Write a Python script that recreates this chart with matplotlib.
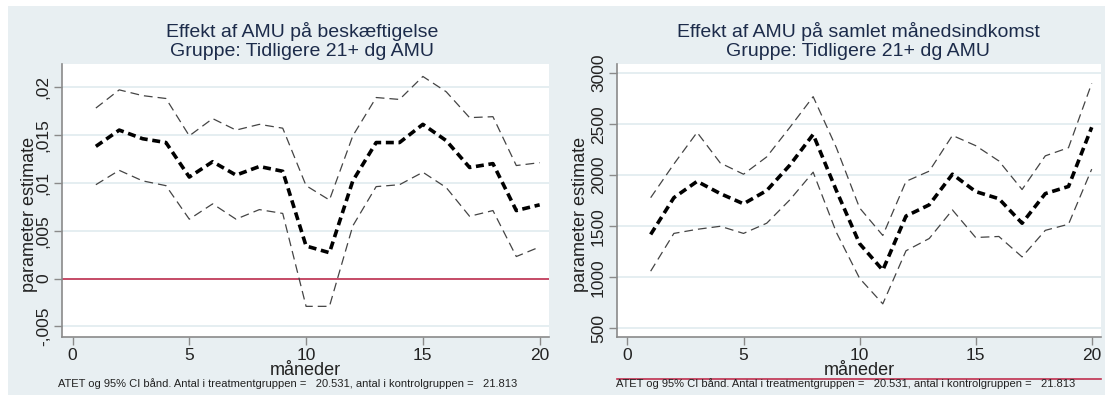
import numpy as np
import matplotlib.pyplot as plt
from matplotlib.patches import Rectangle

plt.rcParams['font.family'] = ['Liberation Sans', 'DejaVu Sans']

# months after start
months = list(range(1, 21))

# employment effect (share) with 95% CI
emp_est = [0.0138, 0.0155, 0.0146, 0.0142, 0.0106, 0.0122, 0.0108, 0.0117, 0.0112, 0.0034,
           0.0027, 0.0102, 0.0142, 0.0142, 0.0161, 0.0144, 0.0116, 0.0120, 0.0071, 0.0077]
emp_hi = [0.0178, 0.0197, 0.0191, 0.0188, 0.0149, 0.0167, 0.0155, 0.0161, 0.0157, 0.0097,
          0.0082, 0.0149, 0.0189, 0.0187, 0.0211, 0.0195, 0.0168, 0.0169, 0.0118, 0.0121]
emp_lo = [0.0098, 0.0113, 0.0102, 0.0097, 0.0062, 0.0078, 0.0062, 0.0072, 0.0068, -0.0029,
          -0.0029, 0.0055, 0.0096, 0.0098, 0.0111, 0.0095, 0.0065, 0.0071, 0.0023, 0.0033]

# monthly income effect (kr) with 95% CI
inc_est = [1420, 1780, 1940, 1820, 1720, 1850, 2100, 2400, 1850, 1330,
           1070, 1600, 1710, 2010, 1840, 1770, 1530, 1820, 1890, 2470]
inc_hi = [1780, 2110, 2420, 2120, 2010, 2180, 2470, 2770, 2270, 1680,
          1410, 1940, 2040, 2390, 2290, 2140, 1860, 2190, 2270, 2900]
inc_lo = [1060, 1430, 1470, 1500, 1430, 1530, 1760, 2030, 1440, 990,
          740, 1260, 1380, 1660, 1390, 1400, 1200, 1460, 1520, 2060]

emp_ticks = [-0.005, 0, 0.005, 0.01, 0.015, 0.02]
emp_labels = ['-,005', '0', ',005', ',01', ',015', ',02']
inc_ticks = [500, 1000, 1500, 2000, 2500, 3000]

note = "ATET og 95% CI bånd. Antal i treatmentgruppen =   20.531, antal i kontrolgruppen =   21.813"
titles = ["Effekt af AMU på beskæftigelse\nGruppe: Tidligere 21+ dg AMU",
          "Effekt af AMU på samlet månedsindkomst\nGruppe: Tidligere 21+ dg AMU"]

W, H = 1105, 401
bg = '#e8eff2'
title_col = '#1c2b4a'
grid_col = '#e3edf0'
axis_col = '#8a8a8a'

fig = plt.figure(figsize=(W / 100, H / 100), dpi=100)
fig.patch.set_facecolor('white')
# shaded graph region behind both panels
fig.patches.append(Rectangle((8 / W, (H - 395) / H), (W - 8) / W, (395 - 6) / H,
                             transform=fig.transFigure, facecolor=bg, edgecolor='none', zorder=-10))


def px(x0, y0, x1, y1):
    return [x0 / W, (H - y1) / H, (x1 - x0) / W, (y1 - y0) / H]


def panel(rect, est, lo, hi, ticks, labels, ylim, title, cx, nx, lab_x, zero_line):
    ax = fig.add_axes(px(*rect))
    ax.set_facecolor('white')
    for t in ticks:
        ax.axhline(t, color=grid_col, lw=1.3, zorder=1)
    if zero_line:
        ax.axhline(0, color='#c0304f', lw=1.2, zorder=2)
    ax.plot(months, hi, color='#444444', lw=0.9, dashes=(7, 4), zorder=3)
    ax.plot(months, lo, color='#444444', lw=0.9, dashes=(7, 4), zorder=3)
    ax.plot(months, est, color='black', lw=2.6, dashes=(2.2, 1.3), zorder=4)
    ax.set_xlim(-0.45, 20.4)
    ax.set_ylim(*ylim)
    ax.set_xticks([0, 5, 10, 15, 20])
    ax.set_yticks(ticks)
    ax.set_yticklabels(labels, rotation=90, va='center')
    ax.tick_params(labelsize=12.5, colors=axis_col, labelcolor='#222222', length=6, width=1)
    ax.tick_params(axis='y', pad=2)
    ax.tick_params(axis='x', pad=2)
    for s in ['top', 'right']:
        ax.spines[s].set_visible(False)
    for s in ['left', 'bottom']:
        ax.spines[s].set_color(axis_col)
        ax.spines[s].set_linewidth(1.2)
    ax.set_xlabel('måneder', fontsize=13, color='#222222', labelpad=-1)
    ax.set_ylabel('parameter estimate', fontsize=13, color='#222222')
    ax.yaxis.set_label_coords(lab_x, 0.45)
    fig.text(cx / W, (H - 41) / H, title, ha='center', va='center', fontsize=14,
             color=title_col, linespacing=1.1)
    fig.text(nx / W, (H - 384) / H, note, ha='center', va='center', fontsize=8,
             color='#222222')
    return ax


panel((62, 64, 549, 337), emp_est, emp_lo, emp_hi, emp_ticks, emp_labels,
      (-0.0061, 0.0224), titles[0], 302, 288, -0.049, True)
panel((617, 64, 1101, 337), inc_est, inc_lo, inc_hi, inc_ticks,
      [str(t) for t in inc_ticks], (415, 3090), titles[1], 858, 846, -0.058, False)

# red rule above the right-hand note
fig.add_artist(plt.Line2D([617 / W, 1101 / W], [(H - 379) / H] * 2, color='#c0304f', lw=1.2))

fig.savefig('out.png', dpi=100, facecolor=fig.get_facecolor())
